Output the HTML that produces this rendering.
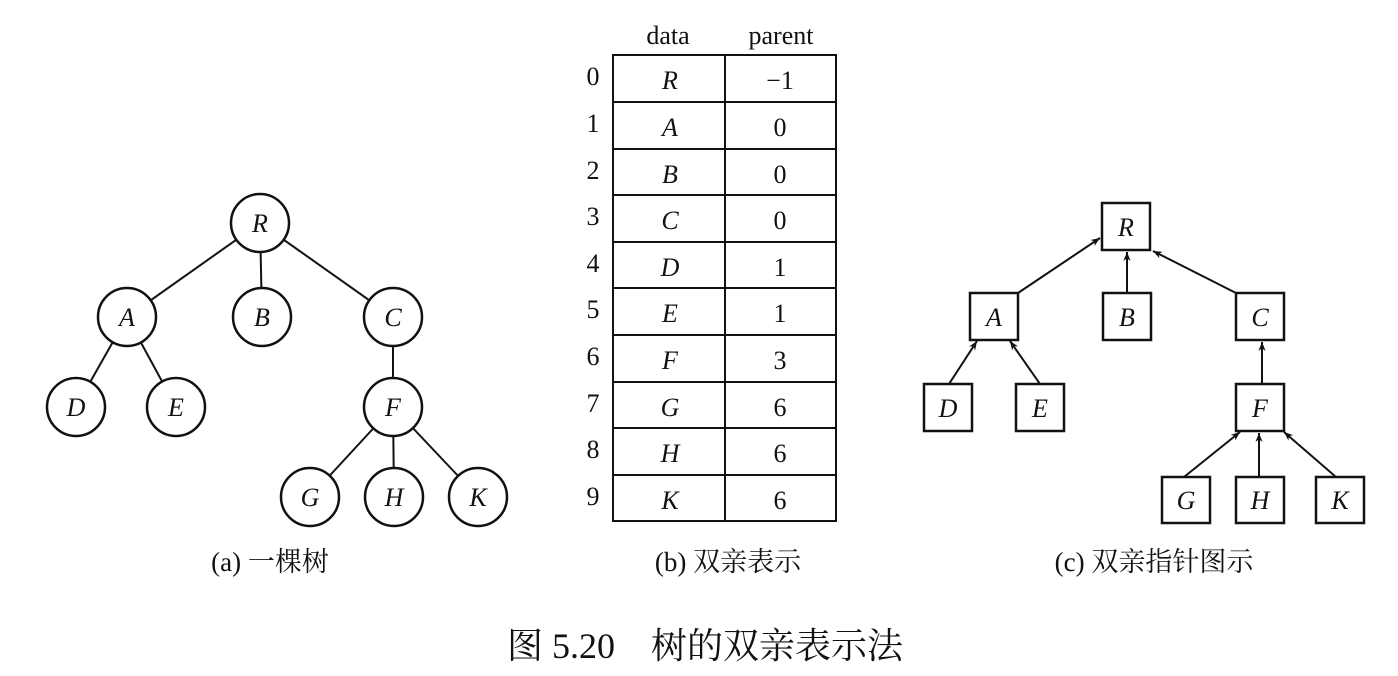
<!DOCTYPE html>
<html><head><meta charset="utf-8"><style>
html,body{margin:0;padding:0;background:#fff;}
svg{display:block;}
text{font-family:"Liberation Serif","Noto Serif CJK SC",serif;fill:#111;}
.i{font-style:italic;font-size:26px;}
.n{font-size:26px;}
</style></head><body>
<svg width="1398" height="676" viewBox="0 0 1398 676" xmlns="http://www.w3.org/2000/svg">
<defs><marker id="ar" viewBox="0 0 10 10" refX="10" refY="5" markerWidth="18" markerHeight="9" markerUnits="userSpaceOnUse" orient="auto"><path d="M0,1 L10,5 L0,9 L3,5 Z" fill="#111"/></marker></defs>
<g stroke="#111" stroke-width="2" fill="none">
<line x1="260" y1="223" x2="127" y2="317"/><line x1="260" y1="223" x2="262" y2="317"/><line x1="260" y1="223" x2="393" y2="317"/>
<line x1="127" y1="317" x2="76" y2="407"/><line x1="127" y1="317" x2="176" y2="407"/>
<line x1="393" y1="317" x2="393" y2="407"/>
<line x1="393" y1="407" x2="310" y2="497"/><line x1="393" y1="407" x2="394" y2="497"/><line x1="393" y1="407" x2="478" y2="497"/>
</g>
<g stroke="#111" stroke-width="2.5" fill="#fff">
<circle cx="260" cy="223" r="29"/><circle cx="127" cy="317" r="29"/><circle cx="262" cy="317" r="29"/><circle cx="393" cy="317" r="29"/>
<circle cx="76" cy="407" r="29"/><circle cx="176" cy="407" r="29"/><circle cx="393" cy="407" r="29"/>
<circle cx="310" cy="497" r="29"/><circle cx="394" cy="497" r="29"/><circle cx="478" cy="497" r="29"/>
</g>
<g class="i" text-anchor="middle">
<text x="260" y="232">R</text><text x="127" y="326">A</text><text x="262" y="326">B</text><text x="393" y="326">C</text>
<text x="76" y="416">D</text><text x="176" y="416">E</text><text x="393" y="416">F</text>
<text x="310" y="506">G</text><text x="394" y="506">H</text><text x="478" y="506">K</text>
</g>
<g stroke="#111" stroke-width="2" fill="none">
<rect x="613" y="55" width="223" height="466"/>
<line x1="725" y1="55" x2="725" y2="521"/>
<line x1="613" y1="102" x2="836" y2="102"/><line x1="613" y1="149" x2="836" y2="149"/><line x1="613" y1="195" x2="836" y2="195"/>
<line x1="613" y1="242" x2="836" y2="242"/><line x1="613" y1="288" x2="836" y2="288"/><line x1="613" y1="335" x2="836" y2="335"/>
<line x1="613" y1="382" x2="836" y2="382"/><line x1="613" y1="428" x2="836" y2="428"/><line x1="613" y1="475" x2="836" y2="475"/>
</g>
<text class="n" x="668" y="44" text-anchor="middle">data</text><text class="n" x="781" y="44" text-anchor="middle">parent</text>
<g class="n" text-anchor="middle">
<text x="593" y="85">0</text><text x="593" y="132">1</text><text x="593" y="179">2</text><text x="593" y="225">3</text><text x="593" y="272">4</text>
<text x="593" y="318">5</text><text x="593" y="365">6</text><text x="593" y="412">7</text><text x="593" y="458">8</text><text x="593" y="505">9</text>
<text x="780" y="89">−1</text><text x="780" y="136">0</text><text x="780" y="183">0</text><text x="780" y="229">0</text><text x="780" y="276">1</text>
<text x="780" y="322">1</text><text x="780" y="369">3</text><text x="780" y="416">6</text><text x="780" y="462">6</text><text x="780" y="509">6</text>
</g>
<g class="i" text-anchor="middle">
<text x="670" y="89">R</text><text x="670" y="136">A</text><text x="670" y="183">B</text><text x="670" y="229">C</text><text x="670" y="276">D</text>
<text x="670" y="322">E</text><text x="670" y="369">F</text><text x="670" y="416">G</text><text x="670" y="462">H</text><text x="670" y="509">K</text>
</g>
<g stroke="#111" stroke-width="2" fill="none" marker-end="url(#ar)">
<line x1="1018" y1="293" x2="1100" y2="238"/>
<line x1="1127" y1="293" x2="1127" y2="252"/>
<line x1="1236" y1="293" x2="1153" y2="251"/>
<line x1="949" y1="384" x2="977" y2="341"/>
<line x1="1040" y1="384" x2="1010" y2="341"/>
<line x1="1262" y1="384" x2="1262" y2="342"/>
<line x1="1184" y1="477" x2="1240" y2="432"/>
<line x1="1259" y1="477" x2="1259" y2="433"/>
<line x1="1336" y1="477" x2="1284" y2="432"/>
</g>
<g stroke="#111" stroke-width="2.5" fill="#fff">
<rect x="1102" y="203" width="48" height="47"/>
<rect x="970" y="293" width="48" height="47"/><rect x="1103" y="293" width="48" height="47"/><rect x="1236" y="293" width="48" height="47"/>
<rect x="924" y="384" width="48" height="47"/><rect x="1016" y="384" width="48" height="47"/><rect x="1236" y="384" width="48" height="47"/>
<rect x="1162" y="477" width="48" height="46"/><rect x="1236" y="477" width="48" height="46"/><rect x="1316" y="477" width="48" height="46"/>
</g>
<g class="i" text-anchor="middle">
<text x="1126" y="236">R</text><text x="994" y="326">A</text><text x="1127" y="326">B</text><text x="1260" y="326">C</text>
<text x="948" y="417">D</text><text x="1040" y="417">E</text><text x="1260" y="417">F</text>
<text x="1186" y="509">G</text><text x="1260" y="509">H</text><text x="1340" y="509">K</text>
</g>
<g font-size="27" text-anchor="middle">
<text x="270" y="571">(a) 一棵树</text>
<text x="728" y="571">(b) 双亲表示</text>
<text x="1154" y="571">(c) 双亲指针图示</text>
<text x="705" y="658" font-size="36" xml:space="preserve">图 5.20    树的双亲表示法</text>
</g>
</svg>
</body></html>
